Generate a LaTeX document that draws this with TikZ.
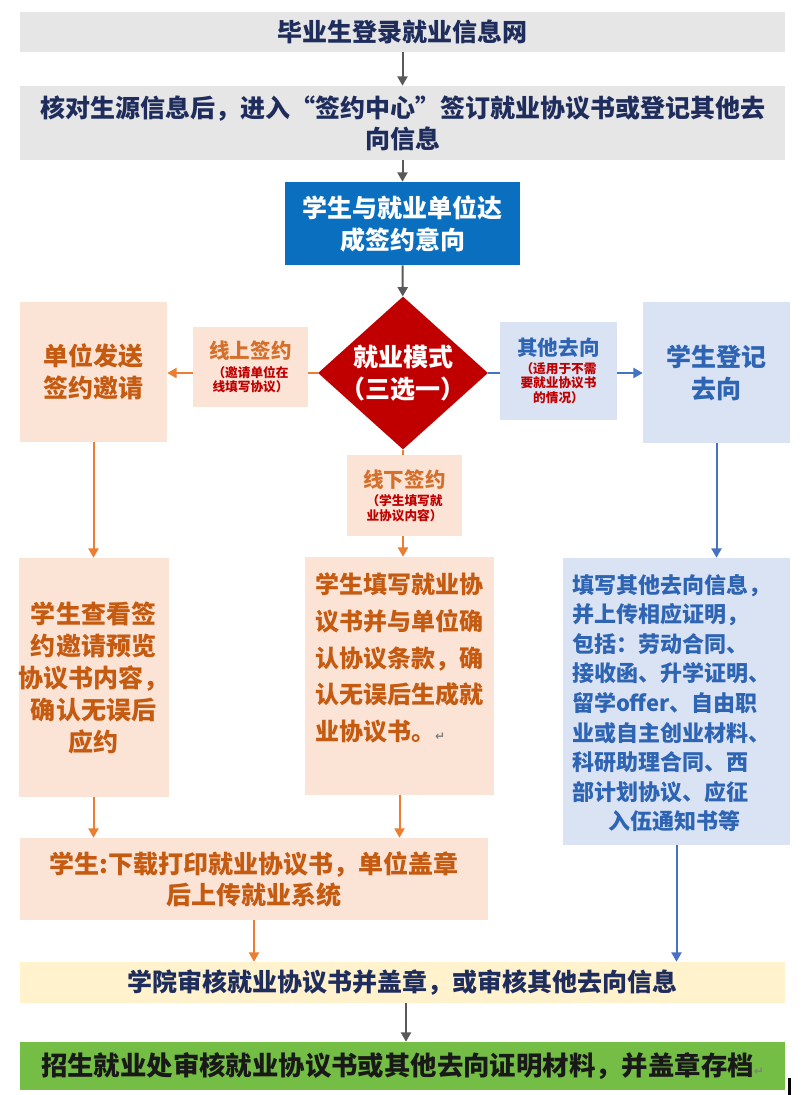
\documentclass[tikz,border=0pt]{standalone}
\usepackage{fontspec}
\setmainfont{Noto Sans CJK SC}
\newfontfamily\markfont{DejaVu Sans}
\usepackage{tikz}
\usetikzlibrary{arrows.meta}
\usetikzlibrary{shapes.geometric}

\definecolor{boxgray}{HTML}{E7E6E6}
\definecolor{navy}{HTML}{1F2D5C}
\definecolor{intentblue}{HTML}{0B6FBF}
\definecolor{modered}{HTML}{C00000}
\definecolor{peach}{HTML}{FBE4D6}
\definecolor{orangetxt}{HTML}{C55A11}
\definecolor{orangeline}{HTML}{ED7D31}
\definecolor{paleblue}{HTML}{DAE3F3}
\definecolor{bluetxt}{HTML}{2F5597}
\definecolor{regblue}{HTML}{2E64B4}
\definecolor{blueline}{HTML}{4472C4}
\definecolor{paleyellow}{HTML}{FFF2CC}
\definecolor{okgreen}{HTML}{75BE45}
\definecolor{darkline}{HTML}{595959}

\newcommand{\bigtxt}{\bfseries\fontsize{18.75pt}{24pt}\selectfont}
\newcommand{\titletxt}{\bfseries\fontsize{15.4pt}{17pt}\selectfont}
\newcommand{\notetxt}{\bfseries\fontsize{9.5pt}{11pt}\selectfont}

\tikzset{
  box/.style={rectangle, inner sep=0pt, align=center},
  graybox/.style={box, fill=boxgray, text=navy, font=\bigtxt},
  peachbox/.style={box, fill=peach, text=orangetxt, font=\bigtxt},
  bluebox/.style={box, fill=paleblue, text=bluetxt, font=\bigtxt},
  tagbox/.style={box, font=\notetxt, text=modered},
  flow/.style={-{Triangle[width=7.5pt,length=7pt]}, line width=1.5pt},
}

\begin{document}
\begin{tikzpicture}[x=0.75pt,y=-0.75pt]
  \useasboundingbox (0,0) rectangle (800,1095);

  % top of the flow
  \node[graybox, minimum width=765*0.75pt, minimum height=40*0.75pt] (login) at (402.5,32) {毕业生登录就业信息网};
  \node[graybox, minimum width=765*0.75pt, minimum height=74*0.75pt, font=\bfseries\fontsize{18.75pt}{23.25pt}\selectfont] (check) at (402.5,123)
    {核对生源信息后，进入“签约中心”签订就业协议书或登记其他去\\向信息};
  \node[box, fill=intentblue, text=white, font=\bigtxt, minimum width=235*0.75pt, minimum height=83*0.75pt] (intent) at (402.5,223.5)
    {学生与就业单位达\\成签约意向};
  \node[diamond, inner sep=0pt, fill=modered, minimum width=170*0.75pt, minimum height=153*0.75pt] (mode) at (403,373) {};
  \node[box, text=white, font=\bigtxt] (modetext) at (mode.center) {就业模式\\（三选一）};

  % three branches
  \node[peachbox, minimum width=147*0.75pt, minimum height=140*0.75pt] (invite) at (93.5,372) {单位发送\\签约邀请};
  \node[bluebox, minimum width=147*0.75pt, minimum height=141*0.75pt, text=regblue] (reg) at (716.5,372.5) {学生登记\\去向};
  \node[peachbox, minimum width=147*0.75pt, minimum height=239*0.75pt, font=\bfseries\fontsize{18.75pt}{24pt}\selectfont] (view) at (93.5,677.5)
    {学生查看签\\约邀请预览\\协议书内容，\\确认无误后\\应约};
  \node[peachbox, minimum width=189*0.75pt, minimum height=238*0.75pt] (fill) at (399.5,676) {};
  \node[anchor=north west, inner sep=0pt, align=left, text=orangetxt, font=\bfseries\fontsize{18pt}{27.5pt}\selectfont]
    (filltext) at ([shift={(10,16)}]fill.north west)
    {学生填写就业协\\议书并与单位确\\认协议条款，确\\认无误后生成就\\业协议书。{\markfont\fontsize{9pt}{9pt}\selectfont\color{gray}↵}};
  \node[bluebox, minimum width=227*0.75pt, minimum height=287*0.75pt] (other) at (676.5,701.5) {};
  \node[inner sep=0pt, text width=204*0.75pt, align=left, text=regblue, font=\bfseries\fontsize{16.5pt}{22.2pt}\selectfont]
    (othertext) at (674,703)
    {填写其他去向信息，\\并上传相应证明，\\包括：劳动合同、\\接收函、升学证明、\\留学offer、自由职\\业或自主创业材料、\\科研助理合同、西\\部计划协议、应征\\\makebox[\linewidth]{入伍通知书等}};
  \node[peachbox, minimum width=468*0.75pt, minimum height=82*0.75pt, font=\bfseries\fontsize{18.75pt}{23.25pt}\selectfont] (upload) at (254,879)
    {学生:下载打印就业协议书，单位盖章\\后上传就业系统};

  % bottom of the flow
  \node[box, fill=paleyellow, text=navy, font=\bigtxt, minimum width=765*0.75pt, minimum height=41*0.75pt] (college) at (402.5,982.5)
    {学院审核就业协议书并盖章，或审核其他去向信息};
  \node[box, fill=okgreen, text=black!90, font=\bfseries\fontsize{19.8pt}{24pt}\selectfont, minimum width=765*0.75pt, minimum height=48*0.75pt] (office) at (402.5,1066)
    {招生就业处审核就业协议书或其他去向证明材料，并盖章存档{\markfont\fontsize{9pt}{9pt}\selectfont\color{gray}↵}};
  \fill (788,1078) rectangle (791,1095);

  % connectors
  \draw[flow, darkline] (login) -- (check);
  \draw[flow, darkline] (check) -- (intent);
  \draw[flow, darkline] (intent) -- (mode);
  \draw[flow, orangeline] (mode.west) -- (mode.west -| invite.east);
  \draw[flow, blueline] (mode.east) -- (mode.east -| reg.west);
  \draw[flow, orangeline] (mode.south) -- (mode.south |- fill.north);
  \draw[flow, orangeline] (invite) -- (view);
  \draw[flow, blueline] (reg.south) -- (reg.south |- other.north);
  \draw[flow, orangeline] (view.south) -- (view.south |- upload.north);
  \draw[flow, orangeline] (fill.south) -- (fill.south |- upload.north);
  \draw[flow, orangeline] (upload) -- (upload |- college.north);
  \draw[flow, blueline] (other) -- (other |- college.north);
  \draw[flow, darkline] (college.south -| 406,0) -- (office.north -| 406,0);

  % branch tags over the connectors
  \node[tagbox, fill=peach, minimum width=115*0.75pt, minimum height=80*0.75pt] (online) at (250.5,367)
    {{\titletxt\color{orangeline!90!black}线上签约}\\[3pt]（邀请单位在\\线填写协议）};
  \node[tagbox, fill=paleblue, minimum width=117*0.75pt, minimum height=98*0.75pt] (elsewise) at (558.5,371)
    {{\titletxt\color{regblue}其他去向}\\[2pt]（适用于不需\\要就业协议书\\的情况）};
  \node[tagbox, fill=peach, minimum width=115*0.75pt, minimum height=81*0.75pt] (offline) at (404.5,495.5)
    {{\titletxt\color{orangeline!90!black}线下签约}\\[3pt]（学生填写就\\业协议内容）};
\end{tikzpicture}
\end{document}
